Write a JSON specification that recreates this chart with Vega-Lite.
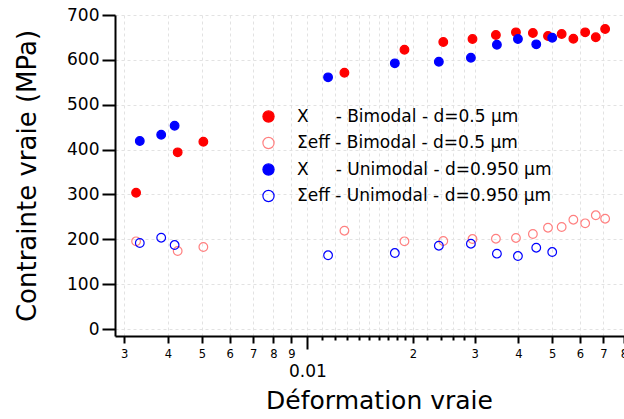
{
  "$schema": "https://vega.github.io/schema/vega-lite/v6.json",
  "width": 509,
  "height": 321,
  "autosize": {"type": "none"},
  "padding": {"left": 115, "top": 15, "right": 0, "bottom": 83},
  "background": "white",
  "config": {
    "font": "DejaVu Sans",
    "view": {"stroke": null},
    "axis": {
      "domainColor": "black",
      "domainWidth": 2,
      "tickColor": "black",
      "tickWidth": 2,
      "labelColor": "black",
      "titleColor": "black",
      "titleFontWeight": "normal",
      "titleFontSize": 25,
      "grid": true,
      "gridColor": "#e2e2e2",
      "gridDash": [3, 3],
      "gridWidth": 1
    }
  },
  "data": {
    "values": [
      {"x": 0.003246, "y": 303.8, "s": "XB"},
      {"x": 0.004266, "y": 393.9, "s": "XB"},
      {"x": 0.00505, "y": 417.5, "s": "XB"},
      {"x": 0.01276, "y": 571.3, "s": "XB"},
      {"x": 0.01893, "y": 622.6, "s": "XB"},
      {"x": 0.02443, "y": 639.8, "s": "XB"},
      {"x": 0.0296, "y": 646.5, "s": "XB"},
      {"x": 0.03452, "y": 655.4, "s": "XB"},
      {"x": 0.03938, "y": 661.4, "s": "XB"},
      {"x": 0.04402, "y": 659.8, "s": "XB"},
      {"x": 0.04861, "y": 653.1, "s": "XB"},
      {"x": 0.05318, "y": 657.6, "s": "XB"},
      {"x": 0.05743, "y": 647.1, "s": "XB"},
      {"x": 0.06206, "y": 661.4, "s": "XB"},
      {"x": 0.06655, "y": 650.3, "s": "XB"},
      {"x": 0.07076, "y": 668.7, "s": "XB"},
      {"x": 0.003246, "y": 195.5, "s": "SB"},
      {"x": 0.004266, "y": 173.9, "s": "SB"},
      {"x": 0.00505, "y": 182.8, "s": "SB"},
      {"x": 0.01276, "y": 219.1, "s": "SB"},
      {"x": 0.01893, "y": 195.5, "s": "SB"},
      {"x": 0.02443, "y": 196.2, "s": "SB"},
      {"x": 0.0296, "y": 200.6, "s": "SB"},
      {"x": 0.03452, "y": 201.3, "s": "SB"},
      {"x": 0.03938, "y": 202.9, "s": "SB"},
      {"x": 0.04402, "y": 211.8, "s": "SB"},
      {"x": 0.04861, "y": 225.8, "s": "SB"},
      {"x": 0.05318, "y": 227.4, "s": "SB"},
      {"x": 0.05743, "y": 243.6, "s": "SB"},
      {"x": 0.06206, "y": 235.6, "s": "SB"},
      {"x": 0.06655, "y": 253.5, "s": "SB"},
      {"x": 0.07076, "y": 245.9, "s": "SB"},
      {"x": 0.003326, "y": 419.1, "s": "XU"},
      {"x": 0.003828, "y": 433.1, "s": "XU"},
      {"x": 0.004181, "y": 453.2, "s": "XU"},
      {"x": 0.01146, "y": 561.1, "s": "XU"},
      {"x": 0.01777, "y": 592.3, "s": "XU"},
      {"x": 0.02373, "y": 595.9, "s": "XU"},
      {"x": 0.02929, "y": 604.8, "s": "XU"},
      {"x": 0.03475, "y": 633.8, "s": "XU"},
      {"x": 0.0399, "y": 646.5, "s": "XU"},
      {"x": 0.045, "y": 634.6, "s": "XU"},
      {"x": 0.04998, "y": 649.4, "s": "XU"},
      {"x": 0.003326, "y": 191.7, "s": "SU"},
      {"x": 0.003828, "y": 203.5, "s": "SU"},
      {"x": 0.004181, "y": 187.2, "s": "SU"},
      {"x": 0.01146, "y": 164.3, "s": "SU"},
      {"x": 0.01777, "y": 169.4, "s": "SU"},
      {"x": 0.02373, "y": 185.7, "s": "SU"},
      {"x": 0.02929, "y": 190.1, "s": "SU"},
      {"x": 0.03475, "y": 167.9, "s": "SU"},
      {"x": 0.0399, "y": 162.7, "s": "SU"},
      {"x": 0.045, "y": 181.2, "s": "SU"},
      {"x": 0.04998, "y": 171.6, "s": "SU"}
    ]
  },
  "mark": {"type": "point", "shape": "circle", "size": 75, "strokeWidth": 1.2, "opacity": 1},
  "encoding": {
    "x": {
      "field": "x",
      "type": "quantitative",
      "scale": {"type": "log", "domain": [0.002826, 0.0801], "nice": false},
      "axis": {
        "title": "Déformation vraie",
        "values": [0.003, 0.004, 0.005, 0.006, 0.007, 0.008, 0.009, 0.01, 0.011, 0.012, 0.013, 0.014, 0.015, 0.016, 0.017, 0.018, 0.019, 0.02, 0.022, 0.024, 0.026, 0.028, 0.03, 0.04, 0.05, 0.06, 0.07, 0.08],
        "labelExpr": "datum.value == 0.01 ? '0.01' : (indexof([0.011, 0.012, 0.013, 0.014, 0.015, 0.016, 0.017, 0.018, 0.019, 0.022, 0.024, 0.026, 0.028], datum.value) >= 0 ? '' : (datum.value < 0.0095 ? format(datum.value * 1000, '.0f') : format(datum.value * 100, '.0f')))",
        "tickSize": {
          "condition": [
            {"test": "datum.value == 0.01", "value": 13},
            {"test": "indexof([0.011, 0.012, 0.013, 0.014, 0.015, 0.016, 0.017, 0.018, 0.019, 0.022, 0.024, 0.026, 0.028], datum.value) >= 0", "value": 4}
          ],
          "value": 7
        },
        "labelFontSize": {"condition": {"test": "datum.value == 0.01", "value": 17}, "value": 11.5},
        "labelPadding": {"condition": {"test": "datum.value == 0.01", "value": 14}, "value": 5},
        "labelFlush": false,
        "labelOverlap": false,
        "labelBound": false,
        "titlePadding": 9,
        "titleX": 264
      }
    },
    "y": {
      "field": "y",
      "type": "quantitative",
      "scale": {"domain": [-15.6, 700], "nice": false, "zero": false},
      "axis": {
        "title": "Contrainte vraie (MPa)",
        "values": [0, 100, 200, 300, 400, 500, 600, 700],
        "tickSize": 13,
        "labelFontSize": 17,
        "labelPadding": 3,
        "titleFontSize": 26,
        "titlePadding": 26
      }
    },
    "fill": {
      "field": "s",
      "type": "nominal",
      "scale": {"domain": ["XB", "SB", "XU", "SU"], "range": ["#ff0000", "transparent", "#0000ff", "transparent"]},
      "legend": {
        "title": null,
        "orient": "none",
        "legendX": 145,
        "legendY": 93,
        "labelFontSize": 17,
        "labelColor": "black",
        "symbolSize": 125,
        "symbolStrokeWidth": 1.2,
        "labelOffset": 20,
        "rowPadding": 8.5,
        "labelLimit": 0,
        "padding": 0,
        "labelExpr": "datum.label == 'XB' ? 'X\u00a0\u00a0\u00a0\u00a0\u00a0- Bimodal - d=0.5 µm' : datum.label == 'SB' ? 'Σeff - Bimodal - d=0.5 µm' : datum.label == 'XU' ? 'X\u00a0\u00a0\u00a0\u00a0\u00a0- Unimodal - d=0.950 µm' : 'Σeff - Unimodal - d=0.950 µm'"
      }
    },
    "stroke": {
      "field": "s",
      "type": "nominal",
      "scale": {"domain": ["XB", "SB", "XU", "SU"], "range": ["#ff0000", "#ff8080", "#0000ff", "#0000ff"]},
      "legend": {
        "title": null,
        "orient": "none",
        "legendX": 145,
        "legendY": 93,
        "labelFontSize": 17,
        "labelColor": "black",
        "symbolSize": 125,
        "symbolStrokeWidth": 1.2,
        "labelOffset": 20,
        "rowPadding": 8.5,
        "labelLimit": 0,
        "padding": 0,
        "labelExpr": "datum.label == 'XB' ? 'X\u00a0\u00a0\u00a0\u00a0\u00a0- Bimodal - d=0.5 µm' : datum.label == 'SB' ? 'Σeff - Bimodal - d=0.5 µm' : datum.label == 'XU' ? 'X\u00a0\u00a0\u00a0\u00a0\u00a0- Unimodal - d=0.950 µm' : 'Σeff - Unimodal - d=0.950 µm'"
      }
    }
  }
}
